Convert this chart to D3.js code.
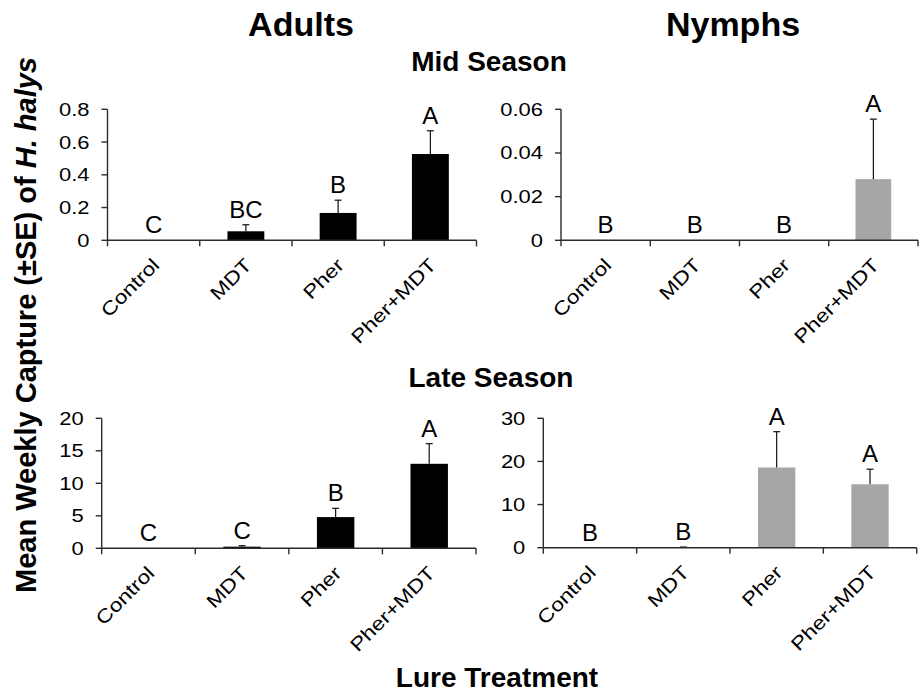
<!DOCTYPE html>
<html>
<head>
<meta charset="utf-8">
<script src="https://cdn.jsdelivr.net/npm/d3@7"></script>
<style>
  body { margin: 0; background: #fff; }
  svg { display: block; font-family: Arial, "Liberation Sans", sans-serif; }
</style>
</head>
<body>
<div id="chart"></div>
<script>
// lure treatments on the x axis
const categories = ["Control", "MDT", "Pher", "Pher+MDT"];

// mid season
const adultsMidMean = [0, 0.055, 0.167, 0.527];
const adultsMidSE = [0, 0.04, 0.078, 0.142];
const adultsMidLetters = ["C", "BC", "B", "A"];
const adultsMidTicks = [0, 0.2, 0.4, 0.6, 0.8];
const adultsMidTickLabels = ["0", "0.2", "0.4", "0.6", "0.8"];

const nymphsMidMean = [0, 0, 0, 0.028];
const nymphsMidSE = [0, 0, 0, 0.0275];
const nymphsMidLetters = ["B", "B", "B", "A"];
const nymphsMidTicks = [0, 0.02, 0.04, 0.06];
const nymphsMidTickLabels = ["0", "0.02", "0.04", "0.06"];

// late season
const adultsLateMean = [0, 0.25, 4.8, 13.0];
const adultsLateSE = [0, 0.15, 1.35, 3.1];
const adultsLateLetters = ["C", "C", "B", "A"];
const adultsLateTicks = [0, 5, 10, 15, 20];
const adultsLateTickLabels = ["0", "5", "10", "15", "20"];

const nymphsLateMean = [0, 0.1, 18.6, 14.7];
const nymphsLateSE = [0, 0.05, 8.3, 3.5];
const nymphsLateLetters = ["B", "B", "A", "A"];
const nymphsLateTicks = [0, 10, 20, 30];
const nymphsLateTickLabels = ["0", "10", "20", "30"];

const width = 923, height = 692;
const adultColor = "#000000";
const nymphColor = "#a6a6a6";
const axisColor = "#2b2b2b";

const svg = d3.select("#chart").append("svg")
    .attr("width", width)
    .attr("height", height);

function drawPanel(p) {
    const x = d3.scaleBand()
        .domain(categories)
        .range([p.x0, p.x1])
        .paddingInner(0.6)
        .paddingOuter(0.3);
    const y = d3.scaleLinear().domain([0, p.max]).range([p.y0, p.y1]);
    const step = x.step();
    const g = svg.append("g");

    const rows = categories.map((c, i) => ({ c, m: p.mean[i], se: p.se[i], letter: p.letters[i] }));

    // bars
    g.selectAll("rect.bar").data(rows).join("rect")
        .attr("class", "bar")
        .attr("x", d => x(d.c))
        .attr("width", x.bandwidth())
        .attr("y", d => y(d.m))
        .attr("height", d => y(0) - y(d.m))
        .attr("fill", p.color);

    // error bars, upper side only
    const eb = g.selectAll("g.err").data(rows.filter(d => d.se > 0)).join("g")
        .attr("class", "err")
        .attr("stroke", "#111")
        .attr("stroke-width", 1.2);
    eb.append("line")
        .attr("x1", d => x(d.c) + x.bandwidth() / 2)
        .attr("x2", d => x(d.c) + x.bandwidth() / 2)
        .attr("y1", d => y(d.m))
        .attr("y2", d => y(d.m + d.se));
    eb.append("line")
        .attr("x1", d => x(d.c) + x.bandwidth() / 2 - 3.5)
        .attr("x2", d => x(d.c) + x.bandwidth() / 2 + 3.5)
        .attr("y1", d => y(d.m + d.se))
        .attr("y2", d => y(d.m + d.se));

    // significance letters
    g.selectAll("text.letter").data(rows).join("text")
        .attr("class", "letter")
        .attr("x", d => x(d.c) + x.bandwidth() / 2)
        .attr("y", d => y(d.m + d.se) - 7)
        .attr("text-anchor", "middle")
        .attr("font-size", 24)
        .attr("fill", "#000")
        .text(d => d.letter);

    // y axis
    g.append("line")
        .attr("x1", p.x0).attr("x2", p.x0)
        .attr("y1", y(p.max)).attr("y2", y(0))
        .attr("stroke", axisColor).attr("stroke-width", 1.4);
    p.ticks.forEach((t, i) => {
        g.append("line")
            .attr("x1", p.x0 - 6).attr("x2", p.x0)
            .attr("y1", y(t)).attr("y2", y(t))
            .attr("stroke", axisColor).attr("stroke-width", 1.4);
        g.append("text")
            .attr("transform", `translate(${p.x0 - 18},${y(t)}) scale(1.22,1)`)
            .attr("dy", "0.36em")
            .attr("text-anchor", "end")
            .attr("font-size", 18)
            .text(p.tickLabels[i]);
    });

    // x axis
    g.append("line")
        .attr("x1", p.x0).attr("x2", p.x1)
        .attr("y1", y(0)).attr("y2", y(0))
        .attr("stroke", axisColor).attr("stroke-width", 1.4);
    d3.range(categories.length + 1).forEach(i => {
        const tx = p.x0 + i * step;
        g.append("line")
            .attr("x1", tx).attr("x2", tx)
            .attr("y1", y(0)).attr("y2", y(0) + 6)
            .attr("stroke", axisColor).attr("stroke-width", 1.4);
    });
    g.selectAll("text.cat").data(categories).join("text")
        .attr("class", "cat")
        .attr("transform", c => `translate(${x(c) + x.bandwidth() / 2 + 7},${y(0) + 26}) rotate(-45) scale(1.2,1)`)
        .attr("text-anchor", "end")
        .attr("font-size", 19)
        .text(c => c);
}

drawPanel({ x0: 107.5, x1: 476.5, y0: 240.3, y1: 109.3, max: 0.8, color: adultColor,
    mean: adultsMidMean, se: adultsMidSE, letters: adultsMidLetters, ticks: adultsMidTicks, tickLabels: adultsMidTickLabels });
drawPanel({ x0: 561, x1: 918, y0: 240.3, y1: 109.3, max: 0.06, color: nymphColor,
    mean: nymphsMidMean, se: nymphsMidSE, letters: nymphsMidLetters, ticks: nymphsMidTicks, tickLabels: nymphsMidTickLabels });
drawPanel({ x0: 101.7, x1: 476, y0: 548.3, y1: 418.3, max: 20, color: adultColor,
    mean: adultsLateMean, se: adultsLateSE, letters: adultsLateLetters, ticks: adultsLateTicks, tickLabels: adultsLateTickLabels });
drawPanel({ x0: 543.3, x1: 916.7, y0: 547.7, y1: 418.3, max: 30, color: nymphColor,
    mean: nymphsLateMean, se: nymphsLateSE, letters: nymphsLateLetters, ticks: nymphsLateTicks, tickLabels: nymphsLateTickLabels });

// titles
const bold = (txt, x, yy, size) => svg.append("text")
    .attr("x", x).attr("y", yy)
    .attr("text-anchor", "middle")
    .attr("font-size", size)
    .attr("font-weight", "bold")
    .text(txt);

bold("Adults", 301, 36, 34);
bold("Nymphs", 733, 36, 34);
bold("Mid Season", 489, 71, 28);
bold("Late Season", 491, 387, 28);
bold("Lure Treatment", 497, 687, 28);

const ytitle = svg.append("text")
    .attr("transform", "translate(36,325) rotate(-90)")
    .attr("text-anchor", "middle")
    .attr("font-size", 29)
    .attr("font-weight", "bold");
ytitle.append("tspan").text("Mean Weekly Capture (±SE) of ");
ytitle.append("tspan").attr("font-style", "italic").text("H. halys");
</script>
</body>
</html>
